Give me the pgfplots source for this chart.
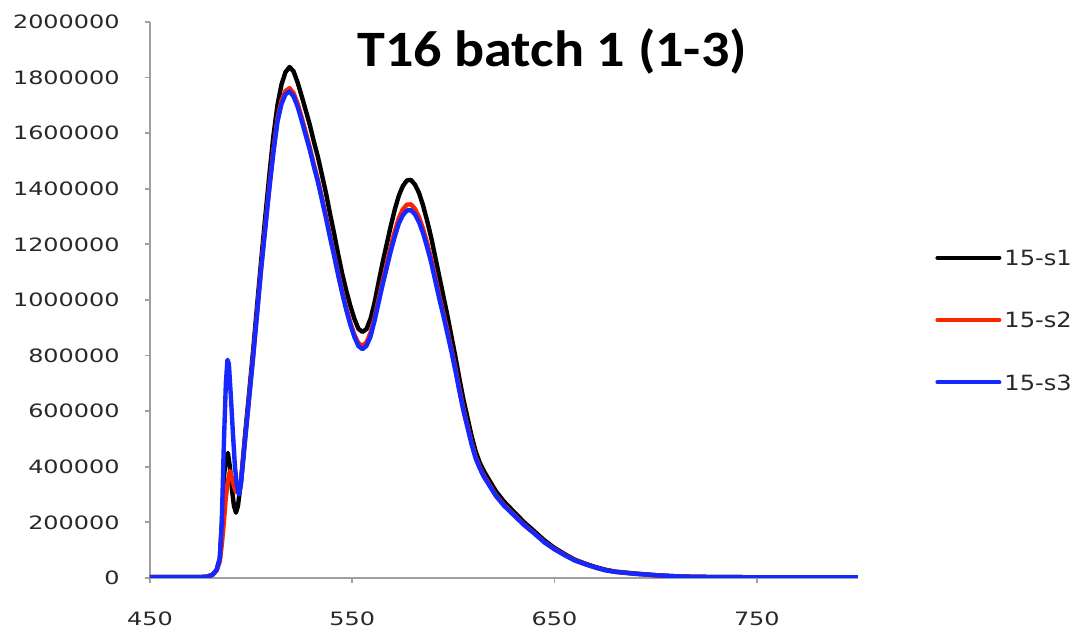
\documentclass[border=0pt]{standalone}
\usepackage{fontspec}
\setmainfont{DejaVu Sans}
\newfontfamily\tickfont[FakeStretch=1.3]{DejaVu Sans}
\newfontfamily\legfont[FakeStretch=1.15]{DejaVu Sans}
\newfontfamily\titlefont[FakeStretch=1.1]{Carlito}
\usepackage{pgfplots}
\pgfplotsset{compat=1.18}
\definecolor{axgray}{RGB}{160,160,160}
\definecolor{txtgray}{RGB}{40,40,40}
\definecolor{sred}{RGB}{255,35,0}
\definecolor{sblue}{RGB}{20,40,255}
\begin{document}
\begin{tikzpicture}
\begin{axis}[
  at={(0,0)}, anchor=south west,
  scale only axis, width=354pt, height=278pt,
  xmin=450, xmax=800, ymin=0, ymax=2000000,
  axis x line*=bottom, axis y line*=left,
  axis line style={axgray, line width=0.9pt},
  tick style={axgray, line width=0.9pt},
  tick align=outside, major tick length=2.5pt,
  xtick={450,550,650,750},
  ytick={0,200000,400000,600000,800000,1000000,1200000,1400000,1600000,1800000,2000000},
  scaled y ticks=false,
  /pgf/number format/assume math mode=true,
  yticklabel={\pgfmathprintnumber[fixed,precision=0,1000 sep={}]{\tick}},
  ticklabel style={font=\fontsize{9.2}{11}\tickfont, text=txtgray},
  yticklabel style={anchor=east, inner sep=0pt, xshift=-12.5pt},
  xticklabel style={anchor=north, inner sep=0pt, yshift=-14pt},
  title={T16 batch 1 (1-3)},
  title style={at={(0.568,0.8975)}, anchor=base, font=\fontsize{25.5}{30}\titlefont\bfseries, inner sep=0pt},
  legend style={at={(1.1088,0.464)}, anchor=west, draw=none, fill=none, inner sep=0pt,
    row sep=20.3pt, column sep=0pt, font=\fontsize{10.5}{12}\legfont, text=txtgray,
    nodes={text height=7.8pt, text depth=0pt, inner sep=1.5pt}},
  legend cell align=left,
  legend image code/.code={\draw[#1, line width=2pt] (0pt,0pt) -- (31pt,0pt);},
  every axis plot/.append style={line width=2.2pt, line join=round, line cap=round},
]
\addplot[black] coordinates {
(450,3000)(470,3000)(478,4000)(481,12000)(483,30000)(484.5,70000)(485.5,190000)(486.5,360000)
(487.5,430000)(488.5,450000)(489.5,400000)(490.5,320000)(491.5,260000)(492.5,235000)(493.5,260000)
(495,350000)(497,515000)(499,665000)(501,820000)(503,985000)(505,1145000)(507,1300000)(509,1450000)
(511,1590000)(513,1700000)(515,1775000)(517,1820000)(519,1838000)(521,1822000)(523,1782000)
(525,1733000)(527,1682000)(529,1630000)(531,1570000)(533,1515000)(535,1450000)(537,1385000)
(539,1310000)(541,1240000)(543,1165000)(545,1095000)(547,1035000)(549,980000)(551,933000)
(553,897000)(555,885000)(557,895000)(559,932000)(561,990000)(563,1063000)(565,1135000)
(567,1200000)(569,1265000)(571,1325000)(573,1375000)(575,1410000)(577,1430000)(579,1432000)
(581,1415000)(583,1385000)(585,1340000)(587,1285000)(589,1225000)(591,1155000)(593,1085000)
(595,1015000)(597,945000)(599,870000)(601,795000)(603,715000)(605,640000)(607,575000)
(609,510000)(611,455000)(613,415000)(615,385000)(618,348000)(621,312000)(625,275000)
(630,237000)(635,200000)(640,168000)(645,135000)(650,108000)(655,86000)(660,66000)
(665,52000)(670,40000)(675,30000)(680,23000)(690,16000)(700,10000)(710,6000)(720,4000)
(750,2500)(800,2000)};
\addlegendentry{15-s1}
\addplot[sred] coordinates {
(450,3000)(470,3000)(478,4000)(481,12000)(483,28000)(484.5,60000)(485.5,120000)(486.5,200000)
(487.5,290000)(488.5,350000)(489.5,385000)(490.5,360000)(491.5,330000)(492.5,310000)(493.5,310000)
(495,345000)(497,500000)(499,650000)(501,800000)(503,960000)(505,1120000)(507,1265000)(509,1410000)
(511,1540000)(513,1652000)(515,1718000)(517,1752000)(519,1762000)(521,1744000)(523,1706000)
(525,1656000)(527,1603000)(529,1548000)(531,1488000)(533,1432000)(535,1368000)(537,1302000)
(539,1232000)(541,1166000)(543,1097000)(545,1032000)(547,972000)(549,920000)(551,876000)
(553,845000)(555,835000)(557,847000)(559,882000)(561,935000)(563,1002000)(565,1068000)
(567,1130000)(569,1192000)(571,1246000)(573,1295000)(575,1326000)(577,1343000)(579,1344000)
(581,1328000)(583,1298000)(585,1256000)(587,1205000)(589,1148000)(591,1082000)(593,1015000)
(595,955000)(597,890000)(599,824000)(601,753000)(603,678000)(605,607000)(607,546000)
(609,486000)(611,435000)(613,399000)(615,369000)(618,334000)(621,298000)(625,263000)
(630,227000)(635,192000)(640,161000)(645,129000)(650,104000)(655,83000)(660,64000)
(665,50000)(670,38000)(675,28000)(680,22000)(690,15000)(700,10000)(710,6000)(720,4000)
(750,2500)(800,2000)};
\addlegendentry{15-s2}
\addplot[sblue] coordinates {
(450,3000)(470,3000)(478,4000)(481,12000)(483,30000)(484.5,70000)(485.5,200000)(486.5,480000)
(487.5,700000)(488.3,785000)(489,770000)(490,650000)(491,520000)(492,400000)(493,330000)
(494,300000)(495,340000)(497,495000)(499,645000)(501,795000)(503,955000)(505,1115000)
(507,1258000)(509,1400000)(511,1530000)(513,1640000)(515,1705000)(517,1740000)(519,1750000)
(521,1732000)(523,1695000)(525,1645000)(527,1592000)(529,1540000)(531,1480000)(533,1425000)
(535,1360000)(537,1295000)(539,1225000)(541,1160000)(543,1090000)(545,1025000)(547,965000)
(549,912000)(551,868000)(553,835000)(555,823000)(557,835000)(559,868000)(561,925000)
(563,990000)(565,1055000)(567,1115000)(569,1175000)(571,1228000)(573,1275000)(575,1305000)
(577,1322000)(579,1323000)(581,1308000)(583,1280000)(585,1240000)(587,1190000)(589,1135000)
(591,1070000)(593,1005000)(595,945000)(597,880000)(599,815000)(601,745000)(603,670000)
(605,600000)(607,540000)(609,480000)(611,430000)(613,395000)(615,365000)(618,330000)
(621,295000)(625,260000)(630,225000)(635,190000)(640,160000)(645,128000)(650,103000)
(655,82000)(660,63000)(665,50000)(670,38000)(675,28000)(680,22000)(690,15000)(700,10000)
(710,6000)(720,4000)(750,2500)(800,2000)};
\addlegendentry{15-s3}
\end{axis}
\pgfresetboundingbox
\path[use as bounding box] (-75pt,-29pt) rectangle (464pt,289pt);
\end{tikzpicture}
\end{document}
